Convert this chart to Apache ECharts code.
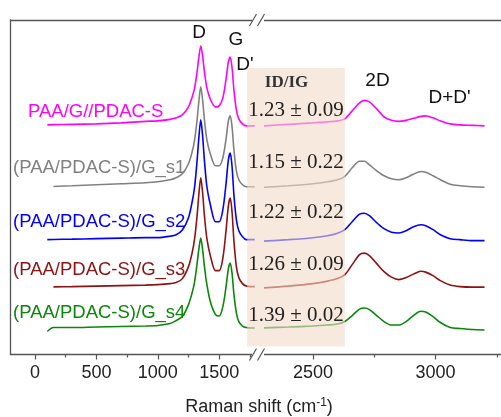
<!DOCTYPE html>
<html>
<head>
<meta charset="utf-8">
<script src="https://cdn.jsdelivr.net/npm/echarts@6/dist/echarts.min.js"></script>
<style>
  html, body { margin: 0; padding: 0; background: #fff; }
  #chart { width: 501px; height: 417px; }
</style>
</head>
<body>
<div id="chart"></div>
<script>
// Raman shift (cm^-1) sampled for the low-wavenumber segment (D, G, D' region)
const shiftLow = [100, 150, 300, 500, 700, 900, 1000, 1100, 1150, 1200, 1250, 1280, 1300, 1320,
  1335, 1350, 1365, 1380, 1400, 1430, 1470, 1500, 1530, 1555, 1575, 1590, 1605, 1620, 1640,
  1660, 1690, 1720, 1760, 1790];
// Raman shift (cm^-1) for the high-wavenumber segment (2D, D+D' region)
const shiftHigh = [2300, 2400, 2500, 2560, 2600, 2630, 2660, 2690, 2710, 2730, 2760, 2790, 2820,
  2850, 2880, 2910, 2940, 2960, 2990, 3020, 3060, 3100, 3150, 3200];

// Offset (stacked) intensities, arbitrary units
const pinkLow = [230, 230.2, 230.5, 231, 232, 233.5, 234, 235.5, 237, 240, 248, 258, 267, 283, 298, 309,
  299, 283, 267, 255, 248, 249, 257, 275, 293, 298, 287, 265, 245, 236, 231, 229, 229, 229];
const grayLow = [null, 168.3, 169, 170, 171, 172, 173, 175, 177, 181, 191, 203, 215, 235, 254, 268,
  255, 235, 215, 200, 189, 189, 197, 215, 234, 239, 228, 205, 184, 175, 170, 168, 168, 168];
const blueLow = [115, 115.2, 115.5, 116, 116.5, 117, 117, 118.5, 120, 124.6, 137, 153, 168, 194, 218, 235,
  219, 194, 168, 149, 133, 133, 145, 170, 195, 201.7, 188, 160, 135, 124, 118, 115, 115, 115];
const brownLow = [null, 67.7, 68, 68.5, 69, 69.5, 70, 71, 72, 76, 88, 102, 116, 139, 161, 177,
  162, 139, 116, 98, 84, 84, 96.6, 123, 149, 156.7, 142.5, 114, 88, 77, 71, 68.5, 68, 68];
const greenLow = [23, 27, 27, 27.5, 28, 28.5, 29, 31, 34, 38, 50, 62, 73, 91, 106, 116.7,
  105, 88, 70, 52, 40, 38.5, 48, 67, 86, 91.7, 81.3, 60.5, 41.7, 33, 28.5, 27, 26.5, 26.5];

const pinkHigh = [229, 230.5, 232, 233, 234, 236, 244, 252, 254.5, 253, 246, 238, 234.5, 233.5, 234.5,
  236.5, 238.5, 239, 237, 234, 231, 230, 229.5, 229];
const grayHigh = [167.5, 169, 171, 173, 175, 178.5, 187, 193.5, 193.5, 190, 184, 179, 176, 175, 177,
  180.5, 183.3, 182.5, 179, 175, 170.5, 169, 168, 167.5];
const blueHigh = [113.5, 115, 117, 119, 121.5, 125, 133, 140.5, 141.5, 139, 132, 126, 122.5, 121.7, 124,
  128, 130, 129, 125, 120, 116, 115, 114, 114];
const brownHigh = [66.7, 68.5, 71, 73.5, 76, 80, 90, 100, 101.5, 99, 91, 83, 77.5, 75, 77,
  80.5, 83.3, 82.5, 79, 74, 69.5, 68, 67.5, 67.5];
const greenHigh = [26.7, 27.5, 28.5, 29.5, 30.5, 33, 39, 45.5, 46.5, 45, 39, 33, 29.5, 29.5, 33,
  39, 43.3, 42.5, 38, 32, 27, 26, 25, 24.5];

const sampleNames = ['PAA/G//PDAC-S', '(PAA/PDAC-S)/G_s1', '(PAA/PDAC-S)/G_s2',
  '(PAA/PDAC-S)/G_s3', '(PAA/PDAC-S)/G_s4'];
const ratioLabels = ['1.23 \u00b1 0.09', '1.15 \u00b1 0.22', '1.22 \u00b1 0.22',
  '1.26 \u00b1 0.09', '1.39 \u00b1 0.02'];
const peakNames = ['D', 'G', "D'", '2D', "D+D'"];

const lowTicks = [0, 500, 1000, 1500];
const lowMinorTicks = [250, 750, 1250, 1750];
const highTicks = [2500, 3000];
const highMinorTicks = [2750, 3250];

const colors = ['#ff00ff', '#808080', '#0000ff', '#8e1212', '#0a870a'];
const lowSets = [pinkLow, grayLow, blueLow, brownLow, greenLow];
const highSets = [pinkHigh, grayHigh, blueHigh, brownHigh, greenHigh];

const SANS = '"Liberation Sans", Arial, sans-serif';
const SERIF = '"Liberation Serif", "Times New Roman", serif';
const AXIS = '#555';

const pairs = (xs, ys) => xs.map((x, i) => [x, ys[i]]).filter(p => p[1] != null);

const chart = echarts.init(document.getElementById('chart'), null, { renderer: 'canvas' });

const hiddenAxisParts = { axisLabel: { show: false }, splitLine: { show: false } };
const lineStyle = { color: AXIS, width: 1.3 };

function bottomAxis(grid, min, max, ticks) {
  return {
    gridIndex: grid, type: 'value', min, max, position: 'bottom',
    axisLine: { show: true, onZero: false, lineStyle },
    axisTick: { show: true, length: 5, customValues: ticks, lineStyle: { color: AXIS, width: 1.2 } },
    axisLabel: { show: true, customValues: ticks, color: '#222', fontSize: 18, fontFamily: SANS,
      margin: 10, formatter: v => String(v) },
    splitLine: { show: false }
  };
}
function minorAxis(grid, min, max, ticks) {
  return Object.assign({
    gridIndex: grid, type: 'value', min, max, position: 'bottom',
    axisLine: { show: false, onZero: false },
    axisTick: { show: true, length: 3, customValues: ticks, lineStyle: { color: AXIS, width: 1.2 } }
  }, hiddenAxisParts);
}
function topAxis(grid, min, max) {
  return Object.assign({
    gridIndex: grid, type: 'value', min, max, position: 'top',
    axisLine: { show: true, onZero: false, lineStyle },
    axisTick: { show: false }
  }, hiddenAxisParts);
}

const series = [];
colors.forEach((c, i) => {
  series.push({
    type: 'line', xAxisIndex: 0, yAxisIndex: 0, data: pairs(shiftLow, lowSets[i]),
    showSymbol: false, smooth: 0.3, lineStyle: { color: c, width: 1.6 }, silent: true, z: 2
  });
  series.push({
    type: 'line', xAxisIndex: 3, yAxisIndex: 1, data: pairs(shiftHigh, highSets[i]),
    showSymbol: false, smooth: 0.3, lineStyle: { color: c, width: 1.6 }, silent: true, z: 2
  });
});

chart.setOption({
  animation: false,
  backgroundColor: '#fff',
  grid: [
    { left: 10.5, right: 245, top: 20, bottom: 62.5, containLabel: false, outerBoundsMode: 'none' },
    { left: 264, right: -8, top: 20, bottom: 62.5, containLabel: false, outerBoundsMode: 'none' }
  ],
  xAxis: [
    bottomAxis(0, -200, 1800, lowTicks),
    minorAxis(0, -200, 1800, lowMinorTicks),
    topAxis(0, -200, 1800),
    bottomAxis(1, 2300, 3300, highTicks),
    minorAxis(1, 2300, 3300, highMinorTicks),
    topAxis(1, 2300, 3300)
  ],
  yAxis: [
    Object.assign({ gridIndex: 0, type: 'value', min: 0, max: 335,
      axisLine: { show: true, onZero: false, lineStyle }, axisTick: { show: false } }, hiddenAxisParts),
    Object.assign({ gridIndex: 1, type: 'value', min: 0, max: 335,
      axisLine: { show: false }, axisTick: { show: false } }, hiddenAxisParts)
  ],
  series
});

// Annotations: shaded ID/IG panel, axis break marks and text
const px = (axis, v) => chart.convertToPixel({ xAxisIndex: axis }, v);
const py = (v) => chart.convertToPixel({ yAxisIndex: 0 }, v);

const boxL = px(0, 1728), boxR = px(3, 2630), boxT = py(287), boxB = py(8);
const leftEnd = px(0, 1800), rightStart = px(3, 2300);
const yTop = py(335), yBot = py(0);

const graphics = [];
graphics.push({
  type: 'rect', z: 50, silent: true,
  shape: { x: boxL, y: boxT, width: boxR - boxL, height: boxB - boxT },
  style: { fill: 'rgba(243, 218, 200, 0.6)' }
});
// erase axis line inside the break and draw the "//" marks
[yTop, yBot].forEach(y => {
  graphics.push({ type: 'rect', z: 60, silent: true,
    shape: { x: leftEnd - 4, y: y - 2, width: rightStart - leftEnd + 4, height: 4 },
    style: { fill: '#fff' } });
  [leftEnd - 3, rightStart - 3].forEach(cx => {
    graphics.push({ type: 'line', z: 61, silent: true,
      shape: { x1: cx - 3.5, y1: y + 6, x2: cx + 3.5, y2: y - 6 },
      style: { stroke: AXIS, lineWidth: 1.2 } });
  });
});

const text = (t, x, y, font, fill, align) => ({
  type: 'text', z: 70, silent: true,
  style: { text: t, x, y, font, fill, textAlign: align || 'center', textVerticalAlign: 'middle' }
});

// sample labels
const labelPos = [[28, 111.7], [13, 167.5], [13, 221.5], [13, 269.5], [13, 312.5]];
sampleNames.forEach((n, i) => {
  graphics.push(text(n, labelPos[i][0], labelPos[i][1], '18.5px ' + SANS, colors[i], 'left'));
});

// ID/IG ratios
graphics.push(text('ID/IG', 286.5, 82.5, 'bold 17px ' + SERIF, '#333'));
const ratioY = [110.5, 162.5, 212.5, 264, 315.7];
ratioLabels.forEach((r, i) => graphics.push(text(r, 296, ratioY[i], '21px ' + SERIF, '#222')));

// peak labels
const peakPos = [[199, 32.5], [236, 40], [245, 65], [377.5, 81], [449.5, 98]];
peakNames.forEach((n, i) => graphics.push(text(n, peakPos[i][0], peakPos[i][1], '19px ' + SANS, '#111')));

// x-axis title with superscript
graphics.push({
  type: 'text', z: 70, silent: true,
  style: {
    text: 'Raman shift (cm{sup|-1}{n|)}', x: 259, y: 407,
    font: '18px ' + SANS, fill: '#222', textAlign: 'center', textVerticalAlign: 'middle',
    rich: {
      sup: { fontSize: 12, fontFamily: SANS, fill: '#222', verticalAlign: 'top', lineHeight: 20 },
      n: { fontSize: 18, fontFamily: SANS, fill: '#222', lineHeight: 20 }
    }
  }
});

chart.setOption({ graphic: { elements: graphics } });
</script>
</body>
</html>
